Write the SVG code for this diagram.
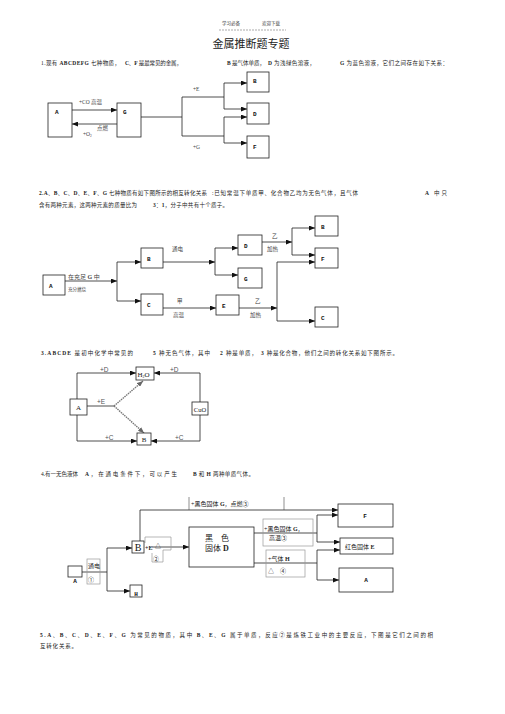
<svg xmlns="http://www.w3.org/2000/svg" width="505" height="714" viewBox="0 0 505 714">
<defs>
<marker id="ah" markerUnits="userSpaceOnUse" markerWidth="6" markerHeight="5" refX="6" refY="2.5" orient="auto">
<path d="M0,0 L6,2.5 L0,5 z" fill="#111"/>
</marker>
<marker id="ahg" markerUnits="userSpaceOnUse" markerWidth="6" markerHeight="5" refX="6" refY="2.5" orient="auto">
<path d="M0,0 L6,2.5 L0,5 z" fill="#666"/>
</marker>
<style>
.bx{fill:#fff;stroke:#222;stroke-width:0.8}
.ln{fill:none;stroke:#222;stroke-width:0.8}
.ar{fill:none;stroke:#222;stroke-width:0.8;marker-end:url(#ah)}
.dg{fill:none;stroke:#777;stroke-width:1.4;stroke-dasharray:1.5,0.8;marker-end:url(#ahg)}
.gb{fill:none;stroke:#999;stroke-width:0.7}
.t{font-family:"Liberation Serif","Noto Sans CJK SC",serif;font-size:5.5px;fill:#222}
.s{font-family:"Liberation Serif","Noto Sans CJK SC",serif;font-size:5.5px;fill:#444}
.lb{font-family:"Liberation Mono",monospace;font-weight:bold;font-size:6px;fill:#111}
.b{font-weight:bold}
</style>
</defs>
<rect width="505" height="714" fill="#fff"/>

<!-- header -->
<g id="header">
<text class="s" x="222" y="25" style="font-size:4.5px">学习必备</text>
<text class="s" x="262" y="25" style="font-size:4.5px">欢迎下载</text>
<line x1="219" y1="30" x2="286" y2="30" stroke="#555" stroke-width="0.5" stroke-dasharray="2,1"/>
<text x="251" y="48" text-anchor="middle" style="font-family:'Liberation Serif','Noto Sans CJK SC',serif;font-size:11px;fill:#222">金属推断题专题</text>
</g>

<!-- problem texts -->
<g id="texts">
<text class="t" x="41" y="65" textLength="79" lengthAdjust="spacing">1.现有 <tspan class="b">ABCDEFG</tspan> 七种物质，</text>
<text class="t" x="125" y="65" textLength="57" lengthAdjust="spacing"><tspan class="b">C</tspan>、<tspan class="b">F</tspan> 是最常见的金属，</text>
<text class="t" x="227" y="65" textLength="38" lengthAdjust="spacing"><tspan class="b">B</tspan> 是气体单质，</text>
<text class="t" x="268" y="65" textLength="47" lengthAdjust="spacing"><tspan class="b">D</tspan> 为浅绿色溶液，</text>
<text class="t" x="340" y="65" textLength="108" lengthAdjust="spacing"><tspan class="b">G</tspan> 为蓝色溶液，它们之间存在如下关系：</text>

<text class="t" x="39" y="195" textLength="168" lengthAdjust="spacing"><tspan class="b">2.A</tspan>、<tspan class="b">B</tspan>、<tspan class="b">C</tspan>、<tspan class="b">D</tspan>、<tspan class="b">E</tspan>、<tspan class="b">F</tspan>、<tspan class="b">G</tspan> 七种物质有如下图所示的相互转化关系</text>
<text class="t" x="212" y="195" textLength="146" lengthAdjust="spacing">:已知常温下单质甲、化合物乙均为无色气体，且气体</text>
<text class="t" x="425" y="195" textLength="22" lengthAdjust="spacing"><tspan class="b">A</tspan> 中只</text>
<text class="t" x="39" y="207" textLength="98" lengthAdjust="spacing">含有两种元素，这两种元素的质量比为</text>
<text class="t" x="153" y="207" textLength="75" lengthAdjust="spacing"><tspan class="b">3</tspan>：<tspan class="b">1</tspan>，分子中共有十个质子。</text>

<text class="t" x="41" y="355" textLength="92" lengthAdjust="spacing"><tspan class="b">3.ABCDE</tspan> 是初中化学中常见的</text>
<text class="t" x="153" y="355" textLength="57" lengthAdjust="spacing"><tspan class="b">5</tspan> 种无色气体，其中</text>
<text class="t" x="220" y="355" textLength="37" lengthAdjust="spacing"><tspan class="b">2</tspan> 种是单质，</text>
<text class="t" x="261" y="355" textLength="137" lengthAdjust="spacing"><tspan class="b">3</tspan> 种是化合物，他们之间的转化关系如下图所示。</text>

<text class="t" x="41" y="476" textLength="37" lengthAdjust="spacing">4.有一无色液体</text>
<text class="t" x="85" y="476" textLength="92" lengthAdjust="spacing"><tspan class="b">A</tspan>，在通电条件下，可以产生</text>
<text class="t" x="193" y="476" style="letter-spacing:0.4px"><tspan class="b">B</tspan> 和 <tspan class="b">H</tspan> 两种单质气体。</text>

<text class="t" x="40" y="637" textLength="393" lengthAdjust="spacing"><tspan class="b">5.A</tspan>、<tspan class="b">B</tspan>、<tspan class="b">C</tspan>、<tspan class="b">D</tspan>、<tspan class="b">E</tspan>、<tspan class="b">F</tspan>、<tspan class="b">G</tspan> 为常见的物质，其中 <tspan class="b">B</tspan>、<tspan class="b">E</tspan>、<tspan class="b">G</tspan> 属于单质，反应②是炼铁工业中的主要反应，下图是它们之间的相</text>
<text class="t" x="40" y="648" textLength="37" lengthAdjust="spacing">互转化关系。</text>
</g>

<!-- ============ Problem 1 ============ -->
<g id="p1-connectors">
<line class="ar" x1="72" y1="110" x2="117" y2="110"/>
<line class="ar" x1="117" y1="124" x2="72" y2="124"/>
<polyline class="ln" points="141,117 182,117"/>
<polyline class="ln" points="224,97 182,97 182,136 224,136"/>
<line class="ln" x1="224" y1="83" x2="224" y2="109"/>
<line class="ln" x1="224" y1="117" x2="224" y2="143"/>
<line class="ar" x1="224" y1="83" x2="247" y2="83"/>
<line class="ar" x1="224" y1="109" x2="247" y2="109"/>
<line class="ar" x1="224" y1="117" x2="247" y2="117"/>
<line class="ar" x1="224" y1="143" x2="247" y2="143"/>
<text class="s" x="79" y="104">+CO 高温</text>
<text class="s" x="97" y="130">点燃</text>
<text class="s" x="83" y="136">+O<tspan font-size="3.5" dy="1">2</tspan></text>
<text class="s" x="193" y="91">+E</text>
<text class="s" x="193" y="149">+G</text>
</g>
<g id="p1-A"><rect class="bx" x="48" y="103" width="24" height="34"/><text class="lb" x="55" y="114">A</text></g>
<g id="p1-G"><rect class="bx" x="117" y="103" width="24" height="34"/><text class="lb" x="123" y="114">G</text></g>
<g id="p1-B"><rect class="bx" x="247" y="72" width="22" height="20"/><text class="lb" x="253" y="83">B</text></g>
<g id="p1-D"><rect class="bx" x="247" y="103" width="22" height="21"/><text class="lb" x="253" y="116">D</text></g>
<g id="p1-F"><rect class="bx" x="247" y="136" width="22" height="22"/><text class="lb" x="253" y="149">F</text></g>

<!-- ============ Problem 2 ============ -->
<g id="p2-connectors">
<line class="ar" x1="65" y1="281" x2="117" y2="281"/>
<line class="ln" x1="117" y1="262" x2="117" y2="301"/>
<line class="ar" x1="117" y1="262" x2="141" y2="262"/>
<line class="ar" x1="117" y1="301" x2="141" y2="301"/>
<line class="ar" x1="163" y1="262" x2="215" y2="262"/>
<line class="ln" x1="215" y1="248" x2="215" y2="275"/>
<line class="ar" x1="215" y1="248" x2="238" y2="248"/>
<line class="ar" x1="215" y1="275" x2="238" y2="275"/>
<line class="ar" x1="262" y1="242" x2="292" y2="242"/>
<line class="ln" x1="292" y1="228" x2="292" y2="255"/>
<line class="ar" x1="292" y1="228" x2="315" y2="228"/>
<line class="ar" x1="292" y1="255" x2="315" y2="255"/>
<line class="ar" x1="163" y1="308" x2="216" y2="308"/>
<line class="ar" x1="239" y1="308" x2="277" y2="308"/>
<line class="ln" x1="277" y1="262" x2="277" y2="321"/>
<line class="ar" x1="277" y1="262" x2="315" y2="262"/>
<line class="ar" x1="277" y1="321" x2="315" y2="321"/>
<text class="s" x="68" y="279" style="font-size:6px">在充足 <tspan class="b">G</tspan> 中</text>
<text class="s" x="68" y="291" style="font-size:4.5px">充分燃烧</text>
<text class="s" x="172" y="251">通电</text>
<text class="s" x="272" y="238">乙</text>
<text class="s" x="267" y="251">加热</text>
<text class="s" x="177" y="303">甲</text>
<text class="s" x="173" y="317">高温</text>
<text class="s" x="255" y="303">乙</text>
<text class="s" x="250" y="317">加热</text>
</g>
<g id="p2-A"><rect class="bx" x="43" y="275" width="22" height="20"/><text class="lb" x="49" y="288">A</text></g>
<g id="p2-B"><rect class="bx" x="141" y="248" width="22" height="20"/><text class="lb" x="147" y="261">B</text></g>
<g id="p2-C"><rect class="bx" x="141" y="294" width="22" height="21"/><text class="lb" x="147" y="307">C</text></g>
<g id="p2-D"><rect class="bx" x="238" y="235" width="24" height="20"/><text class="lb" x="244" y="248">D</text></g>
<g id="p2-G"><rect class="bx" x="238" y="268" width="24" height="20"/><text class="lb" x="244" y="281">G</text></g>
<g id="p2-E"><rect class="bx" x="216" y="295" width="23" height="20"/><text class="lb" x="222" y="308">E</text></g>
<g id="p2-B2"><rect class="bx" x="315" y="216" width="23" height="20"/><text class="lb" x="321" y="229">B</text></g>
<g id="p2-F"><rect class="bx" x="315" y="248" width="23" height="20"/><text class="lb" x="321" y="261">F</text></g>
<g id="p2-C2"><rect class="bx" x="315" y="307" width="23" height="20"/><text class="lb" x="321" y="320">C</text></g>

<!-- ============ Problem 3 ============ -->
<g id="p3-connectors">
<polyline class="ar" points="77,399 77,373 136,373"/>
<polyline class="ar" points="200,402 200,373 154,373"/>
<polyline class="ar" points="77,415 77,441 137,441"/>
<polyline class="ar" points="200,415 200,441 151,441"/>
<line class="ln" x1="87" y1="406" x2="114" y2="406"/>
<line class="dg" x1="114" y1="406" x2="143" y2="381"/>
<line class="dg" x1="114" y1="406" x2="144" y2="433"/>
<g style="font-family:'Liberation Sans',sans-serif;font-size:6.5px;fill:#555">
<text x="100" y="372">+D</text>
<text x="170" y="372">+D</text>
<text x="97" y="404">+E</text>
<text x="105" y="440">+C</text>
<text x="175" y="440">+C</text>
</g>
</g>
<g id="p3-A"><rect class="bx" x="70" y="399" width="17" height="16"/><text x="78.5" y="410" text-anchor="middle" style="font-family:'Liberation Serif',serif;font-size:7px;fill:#222">A</text></g>
<g id="p3-H2O"><rect class="bx" x="136" y="367" width="18" height="13"/><text x="137.5" y="376.5" style="font-family:'Liberation Serif',serif;font-size:7px;fill:#222">H<tspan font-size="4" dy="1.5">2</tspan><tspan dy="-1.5">O</tspan></text></g>
<g id="p3-CuO"><rect class="bx" x="192" y="402" width="16" height="13"/><text x="200" y="411.5" text-anchor="middle" style="font-family:'Liberation Serif',serif;font-size:6.5px;fill:#222">CuO</text></g>
<g id="p3-B"><rect class="bx" x="137" y="433" width="14" height="12"/><text x="144" y="442" text-anchor="middle" style="font-family:'Liberation Serif',serif;font-size:7px;fill:#222">B</text></g>

<!-- ============ Problem 4 ============ -->
<g id="p4-connectors">
<line class="ln" x1="82" y1="572" x2="107" y2="572"/>
<line class="ln" x1="107" y1="548" x2="107" y2="591"/>
<line class="ar" x1="107" y1="548" x2="132" y2="548"/>
<line class="ar" x1="107" y1="591" x2="130" y2="591"/>
<polyline class="ar" points="140,541 140,510 338,510"/>
<line class="ar" x1="152" y1="547" x2="189" y2="547"/>
<polyline class="ln" points="254,533 317,533"/>
<line class="ln" x1="317" y1="515" x2="317" y2="542"/>
<line class="ar" x1="317" y1="515" x2="338" y2="515"/>
<line class="ar" x1="317" y1="542" x2="340" y2="542"/>
<polyline class="ln" points="254,563 317,563"/>
<line class="ln" x1="317" y1="550" x2="317" y2="580"/>
<line class="ar" x1="317" y1="550" x2="340" y2="550"/>
<line class="ar" x1="317" y1="580" x2="339" y2="580"/>
<rect class="gb" x="87" y="559" width="13" height="25"/>
<path class="gb" d="M145,543 V537 H171 V550 H163 V562 H152 V553"/>
<rect class="gb" x="263" y="519" width="50" height="27"/>
<rect class="gb" x="266" y="550" width="39" height="27"/>
<line x1="189" y1="497" x2="189" y2="510" stroke="#444" stroke-width="0.6"/>
<line x1="284" y1="497" x2="284" y2="510" stroke="#444" stroke-width="0.6"/>
<text class="t" x="88" y="568" style="font-size:6px">通电</text>
<text class="t" x="88" y="582" style="font-size:6px">①</text>
<text class="t" x="145" y="550" style="font-size:6px"><tspan class="b">+E</tspan></text>
<text class="t" x="155" y="548" style="font-size:6px">△</text>
<text class="t" x="153" y="561" style="font-size:6px">②</text>
<text class="t" x="191" y="506" style="font-size:6px">+黑色固体 <tspan class="b">G</tspan>，点燃③</text>
<text class="t" x="264" y="531" style="font-size:6px">+黑色固体 <tspan class="b">G</tspan>，</text>
<text class="t" x="269" y="540" style="font-size:6px">高温③</text>
<text class="t" x="268" y="561" style="font-size:6px">+气体 <tspan class="b">H</tspan></text>
<text class="t" x="268" y="573" style="font-size:6px">△　④</text>
</g>
<g id="p4-A"><rect class="bx" x="68" y="566" width="14" height="11"/><text class="lb" x="75" y="583" text-anchor="middle">A</text></g>
<g id="p4-B"><rect class="bx" x="132" y="541" width="12" height="12"/><text x="138" y="551" text-anchor="middle" style="font-family:'Liberation Serif',serif;font-size:10px;fill:#111">B</text></g>
<g id="p4-H"><rect class="bx" x="130" y="585" width="12" height="12"/><text class="lb" x="136" y="596" text-anchor="middle">H</text></g>
<g id="p4-D"><rect class="bx" x="189" y="527" width="65" height="40"/>
<text class="t" x="205" y="541" style="font-size:8px">黑　色</text>
<text class="t" x="205" y="551" style="font-size:8px">固体 <tspan class="b">D</tspan></text></g>
<g id="p4-F"><rect class="bx" x="338" y="504" width="55" height="23"/><text class="lb" x="365" y="518" text-anchor="middle">F</text></g>
<g id="p4-E"><rect class="bx" x="340" y="538" width="53" height="16"/><text class="t" x="345" y="549" style="font-size:6px">红色固体 <tspan class="b">E</tspan></text></g>
<g id="p4-A2"><rect class="bx" x="339" y="568" width="54" height="24"/><text class="lb" x="366" y="582" text-anchor="middle">A</text></g>
</svg>
